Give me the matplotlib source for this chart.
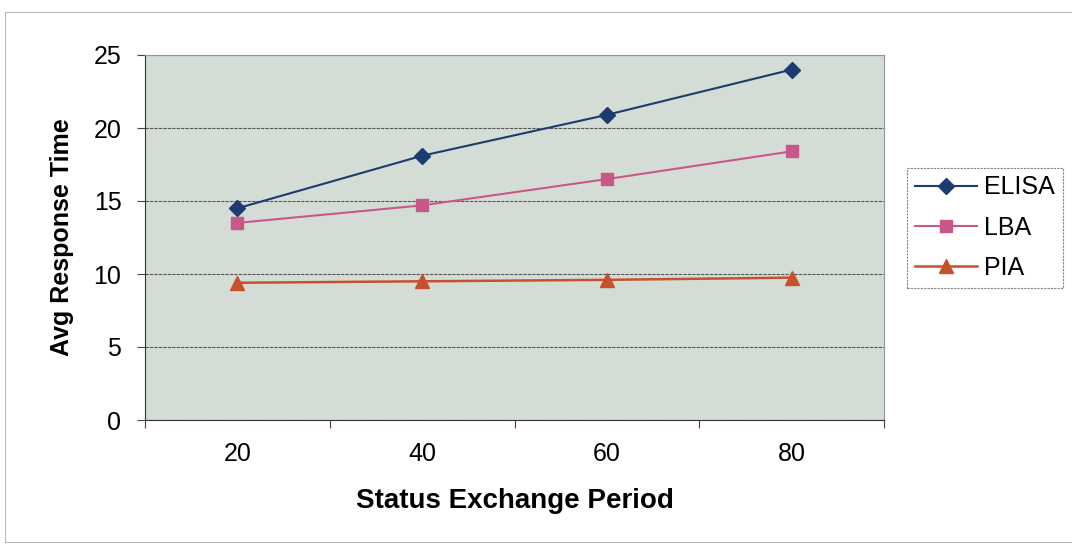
import matplotlib.pyplot as plt
from matplotlib.patches import Rectangle

# data
periods = ["20", "40", "60", "80"]
elisa = [14.5, 18.1, 20.9, 24.0]
lba = [13.5, 14.7, 16.5, 18.4]
pia = [9.4, 9.5, 9.6, 9.75]

plt.rcParams['font.family'] = ['Liberation Sans', 'DejaVu Sans']

fig = plt.figure(figsize=(10.72, 5.45), dpi=100)
fig.patch.set_facecolor("white")
# outer chart border
fig.patches.append(Rectangle((5 / 1072, 0.005), 1.2, 1 - 12 / 545 - 0.005,
                             transform=fig.transFigure, fill=False,
                             edgecolor="#b8b8b8", linewidth=0.8))

ax = fig.add_axes([145 / 1072, 1 - 420 / 545, (884 - 145) / 1072, (420 - 55) / 545])
ax.set_facecolor("#d3ddd6")

x = range(len(periods))
ax.plot(x, elisa, color="#1c3b6e", marker="D", markersize=8, linewidth=1.5, label="ELISA")
ax.plot(x, lba, color="#c9588a", marker="s", markersize=8, linewidth=1.5, label="LBA")
ax.plot(x, pia, color="#c8502c", marker="^", markersize=10, linewidth=1.8, label="PIA")

ax.set_xlim(-0.5, len(periods) - 0.5)
ax.set_ylim(0, 25)
ax.set_yticks(range(0, 26, 5))
ax.yaxis.grid(True, color="#555555", linewidth=0.8, linestyle=(0, (3, 1)))
ax.set_axisbelow(True)

# category axis: ticks between categories, labels at centres
ax.set_xticks([i - 0.5 for i in range(len(periods) + 1)])
ax.set_xticklabels([])
ax.set_xticks(list(x), minor=True)
ax.set_xticklabels(periods, minor=True)
ax.tick_params(axis="x", which="minor", length=0, pad=16, labelsize=18)
ax.tick_params(axis="x", which="major", length=6, color="#444444")
ax.tick_params(axis="y", length=6, color="#444444", labelsize=18, pad=11)

for s in ["left", "bottom"]:
    ax.spines[s].set_color("#333333")
for s in ["top", "right"]:
    ax.spines[s].set_color("#8a9a90")

ax.set_xlabel("Status Exchange Period", fontsize=20, fontweight="bold", labelpad=16)
ax.set_ylabel("Avg Response Time", fontsize=18, fontweight="bold", labelpad=14)

leg = fig.legend(loc="upper left", bbox_to_anchor=(907 / 1072, 1 - 168 / 545),
                 fontsize=18, frameon=True, fancybox=False, handlelength=2.5,
                 borderpad=0.3, labelspacing=0.65, handletextpad=0.3,
                 borderaxespad=0)
leg.get_frame().set_edgecolor("#666666")
leg.get_frame().set_linewidth(0.8)
leg.get_frame().set_linestyle((0, (2, 1)))

fig.savefig("out.png", dpi=100)
